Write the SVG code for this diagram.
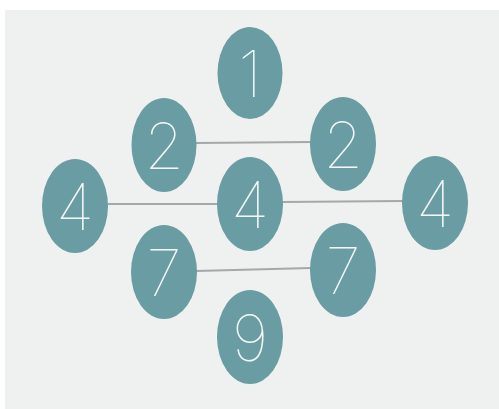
<svg xmlns="http://www.w3.org/2000/svg" width="499" height="409" viewBox="0 0 499 409">
<style>
.n{fill:#6a9ca3}
.t{fill:#f4f8f8;font-family:Inter,"Liberation Sans",sans-serif;font-weight:100;font-size:64px;text-anchor:middle}
.c{stroke:#a3a8a8;stroke-width:2;fill:none}
</style>
<rect x="0" y="0" width="499" height="409" fill="#ffffff"/>
<rect x="5" y="10" width="494" height="399" fill="#eff1f0"/>
<g id="connectors">
<line class="c" x1="196" y1="143" x2="311" y2="142"/>
<line class="c" x1="108" y1="204" x2="218" y2="204"/>
<line class="c" x1="282" y1="202" x2="403" y2="201"/>
<line class="c" x1="196" y1="271" x2="311" y2="268"/>
</g>
<g id="n1"><ellipse class="n" cx="250" cy="73" rx="32.5" ry="46"/><text class="t" x="250" y="97">1</text></g>
<g id="n2a"><ellipse class="n" cx="164" cy="145" rx="32.5" ry="47"/><text class="t" x="164" y="169">2</text></g>
<g id="n2b"><ellipse class="n" cx="343" cy="144" rx="33" ry="47"/><text class="t" x="343" y="168">2</text></g>
<g id="n4a"><ellipse class="n" cx="75" cy="206" rx="33" ry="47"/><text class="t" x="75" y="230">4</text></g>
<g id="n4b"><ellipse class="n" cx="250" cy="204" rx="33" ry="47"/><text class="t" x="250" y="228">4</text></g>
<g id="n4c"><ellipse class="n" cx="435" cy="203" rx="33" ry="47"/><text class="t" x="435" y="227">4</text></g>
<g id="n7a"><ellipse class="n" cx="164" cy="272" rx="33" ry="47"/><text class="t" x="164" y="296">7</text></g>
<g id="n7b"><ellipse class="n" cx="343" cy="270" rx="33" ry="47"/><text class="t" x="343" y="294">7</text></g>
<g id="n9"><ellipse class="n" cx="250" cy="337" rx="33" ry="47"/><text class="t" x="250" y="361">9</text></g>
</svg>
